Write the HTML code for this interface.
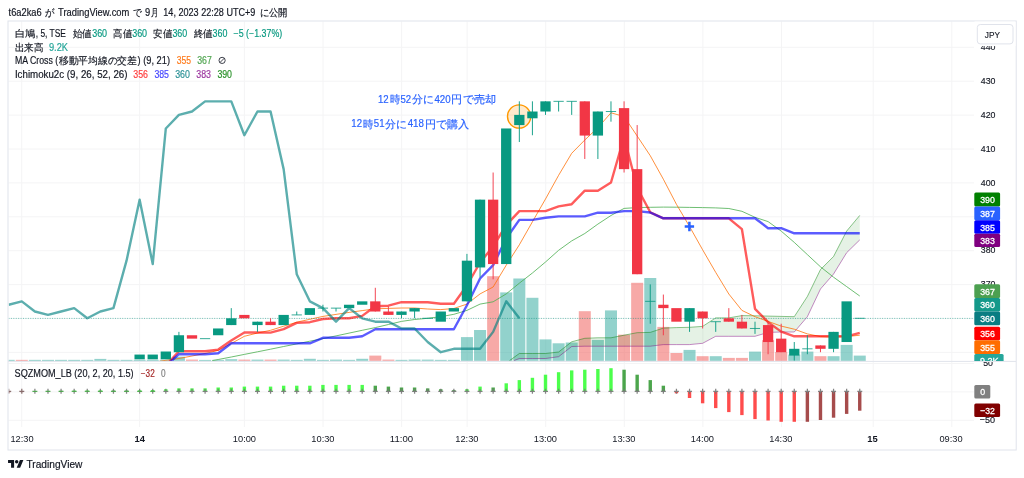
<!DOCTYPE html>
<html lang="ja"><head><meta charset="utf-8"><title>TradingView chart</title>
<style>html,body{margin:0;padding:0;background:#fff;width:1024px;height:478px;overflow:hidden}svg{position:absolute;left:0;top:0;display:block;filter:blur(0.32px)}text{font-family:"Liberation Sans",sans-serif;font-size:9.2px;fill:#131722}.ax{fill:#131722;font-size:9.7px;stroke:#131722;stroke-width:0.15px}.lb{fill:#fff;font-size:9.7px;stroke:#fff;stroke-width:0.3px}.b{font-weight:bold}.g{stroke:#f4f4f5;stroke-width:1;shape-rendering:auto}</style></head><body>
<svg width="1024" height="478" viewBox="0 0 1024 478">
<rect width="1024" height="478" fill="#fff"/>
<g class="g">
<line x1="8.5" y1="47.3" x2="974" y2="47.3"/>
<line x1="8.5" y1="81.2" x2="974" y2="81.2"/>
<line x1="8.5" y1="115.1" x2="974" y2="115.1"/>
<line x1="8.5" y1="149" x2="974" y2="149"/>
<line x1="8.5" y1="182.9" x2="974" y2="182.9"/>
<line x1="8.5" y1="216.8" x2="974" y2="216.8"/>
<line x1="8.5" y1="250.7" x2="974" y2="250.7"/>
<line x1="8.5" y1="284.6" x2="974" y2="284.6"/>
<line x1="8.5" y1="318.5" x2="974" y2="318.5"/>
<line x1="8.5" y1="352.4" x2="974" y2="352.4"/>
<line x1="8.5" y1="363.5" x2="974" y2="363.5"/>
<line x1="8.5" y1="391.9" x2="974" y2="391.9"/>
<line x1="8.5" y1="420.3" x2="974" y2="420.3"/>
<line x1="21.7" y1="21.5" x2="21.7" y2="427"/>
<line x1="139.6" y1="21.5" x2="139.6" y2="427"/>
<line x1="244.4" y1="21.5" x2="244.4" y2="427"/>
<line x1="323" y1="21.5" x2="323" y2="427"/>
<line x1="401.6" y1="21.5" x2="401.6" y2="427"/>
<line x1="467.1" y1="21.5" x2="467.1" y2="427"/>
<line x1="545.7" y1="21.5" x2="545.7" y2="427"/>
<line x1="624.3" y1="21.5" x2="624.3" y2="427"/>
<line x1="702.9" y1="21.5" x2="702.9" y2="427"/>
<line x1="781.5" y1="21.5" x2="781.5" y2="427"/>
<line x1="873.2" y1="21.5" x2="873.2" y2="427"/>
<line x1="951.8" y1="21.5" x2="951.8" y2="427"/>
</g>
<defs><clipPath id="mp"><rect x="8.5" y="21.5" width="965.5" height="339.4"/></clipPath><clipPath id="lp"><rect x="8.5" y="362" width="965.5" height="65"/></clipPath></defs>
<g clip-path="url(#mp)">
<rect x="2.7" y="359.85" width="12" height="1.05" fill="#26a69a" fill-opacity="0.5"/>
<rect x="15.79" y="359.85" width="12" height="1.05" fill="#ef5350" fill-opacity="0.5"/>
<rect x="28.89" y="359.85" width="12" height="1.05" fill="#26a69a" fill-opacity="0.5"/>
<rect x="41.98" y="359.85" width="12" height="1.05" fill="#26a69a" fill-opacity="0.5"/>
<rect x="55.07" y="359.85" width="12" height="1.05" fill="#26a69a" fill-opacity="0.5"/>
<rect x="68.17" y="359.85" width="12" height="1.05" fill="#26a69a" fill-opacity="0.5"/>
<rect x="81.26" y="359.85" width="12" height="1.05" fill="#26a69a" fill-opacity="0.5"/>
<rect x="94.35" y="358.9" width="12" height="2" fill="#26a69a" fill-opacity="0.5"/>
<rect x="107.44" y="359.85" width="12" height="1.05" fill="#26a69a" fill-opacity="0.5"/>
<rect x="120.54" y="359.85" width="12" height="1.05" fill="#26a69a" fill-opacity="0.5"/>
<rect x="133.63" y="359.85" width="12" height="1.05" fill="#26a69a" fill-opacity="0.5"/>
<rect x="146.72" y="359.85" width="12" height="1.05" fill="#26a69a" fill-opacity="0.5"/>
<rect x="159.82" y="359.85" width="12" height="1.05" fill="#26a69a" fill-opacity="0.5"/>
<rect x="172.91" y="356.7" width="12" height="4.2" fill="#26a69a" fill-opacity="0.5"/>
<rect x="186" y="359.6" width="12" height="1.3" fill="#ef5350" fill-opacity="0.5"/>
<rect x="199.09" y="359.9" width="12" height="1" fill="#26a69a" fill-opacity="0.5"/>
<rect x="212.19" y="359.85" width="12" height="1.05" fill="#26a69a" fill-opacity="0.5"/>
<rect x="225.28" y="359.2" width="12" height="1.7" fill="#26a69a" fill-opacity="0.5"/>
<rect x="238.37" y="359.6" width="12" height="1.3" fill="#ef5350" fill-opacity="0.5"/>
<rect x="251.47" y="359.6" width="12" height="1.3" fill="#26a69a" fill-opacity="0.5"/>
<rect x="264.56" y="359.6" width="12" height="1.3" fill="#ef5350" fill-opacity="0.5"/>
<rect x="277.65" y="359.6" width="12" height="1.3" fill="#26a69a" fill-opacity="0.5"/>
<rect x="290.75" y="359.85" width="12" height="1.05" fill="#26a69a" fill-opacity="0.5"/>
<rect x="303.84" y="358.8" width="12" height="2.1" fill="#26a69a" fill-opacity="0.5"/>
<rect x="316.93" y="359.85" width="12" height="1.05" fill="#26a69a" fill-opacity="0.5"/>
<rect x="330.02" y="359.6" width="12" height="1.3" fill="#26a69a" fill-opacity="0.5"/>
<rect x="343.12" y="359.85" width="12" height="1.05" fill="#26a69a" fill-opacity="0.5"/>
<rect x="356.21" y="358.8" width="12" height="2.1" fill="#26a69a" fill-opacity="0.5"/>
<rect x="369.3" y="355.6" width="12" height="5.3" fill="#ef5350" fill-opacity="0.5"/>
<rect x="382.4" y="359.6" width="12" height="1.3" fill="#ef5350" fill-opacity="0.5"/>
<rect x="395.49" y="359.85" width="12" height="1.05" fill="#26a69a" fill-opacity="0.5"/>
<rect x="408.58" y="359.6" width="12" height="1.3" fill="#26a69a" fill-opacity="0.5"/>
<rect x="421.68" y="359.6" width="12" height="1.3" fill="#26a69a" fill-opacity="0.5"/>
<rect x="434.77" y="359.85" width="12" height="1.05" fill="#26a69a" fill-opacity="0.5"/>
<rect x="447.86" y="359.85" width="12" height="1.05" fill="#26a69a" fill-opacity="0.5"/>
<rect x="460.95" y="337.1" width="12" height="23.8" fill="#26a69a" fill-opacity="0.5"/>
<rect x="474.05" y="330" width="12" height="30.9" fill="#26a69a" fill-opacity="0.5"/>
<rect x="487.14" y="276.2" width="12" height="84.7" fill="#ef5350" fill-opacity="0.5"/>
<rect x="500.23" y="292.4" width="12" height="68.5" fill="#26a69a" fill-opacity="0.5"/>
<rect x="513.33" y="278.5" width="12" height="82.4" fill="#26a69a" fill-opacity="0.5"/>
<rect x="526.42" y="297.8" width="12" height="63.1" fill="#26a69a" fill-opacity="0.5"/>
<rect x="539.51" y="339.4" width="12" height="21.5" fill="#26a69a" fill-opacity="0.5"/>
<rect x="552.61" y="343.3" width="12" height="17.6" fill="#26a69a" fill-opacity="0.5"/>
<rect x="565.7" y="342.5" width="12" height="18.4" fill="#26a69a" fill-opacity="0.5"/>
<rect x="578.79" y="311.2" width="12" height="49.7" fill="#ef5350" fill-opacity="0.5"/>
<rect x="591.88" y="339.9" width="12" height="21" fill="#26a69a" fill-opacity="0.5"/>
<rect x="604.98" y="310.4" width="12" height="50.5" fill="#26a69a" fill-opacity="0.5"/>
<rect x="618.07" y="334.7" width="12" height="26.2" fill="#ef5350" fill-opacity="0.5"/>
<rect x="631.16" y="282.8" width="12" height="78.1" fill="#ef5350" fill-opacity="0.5"/>
<rect x="644.26" y="278" width="12" height="82.9" fill="#26a69a" fill-opacity="0.5"/>
<rect x="657.35" y="326.9" width="12" height="34" fill="#ef5350" fill-opacity="0.5"/>
<rect x="670.44" y="353" width="12" height="7.9" fill="#ef5350" fill-opacity="0.5"/>
<rect x="683.54" y="349.9" width="12" height="11" fill="#26a69a" fill-opacity="0.5"/>
<rect x="696.63" y="356.2" width="12" height="4.7" fill="#ef5350" fill-opacity="0.5"/>
<rect x="709.72" y="356.2" width="12" height="4.7" fill="#26a69a" fill-opacity="0.5"/>
<rect x="722.82" y="357.9" width="12" height="3" fill="#ef5350" fill-opacity="0.5"/>
<rect x="735.91" y="357.9" width="12" height="3" fill="#ef5350" fill-opacity="0.5"/>
<rect x="749" y="351.6" width="12" height="9.3" fill="#26a69a" fill-opacity="0.5"/>
<rect x="762.09" y="340.2" width="12" height="20.7" fill="#ef5350" fill-opacity="0.5"/>
<rect x="775.19" y="352" width="12" height="8.9" fill="#ef5350" fill-opacity="0.5"/>
<rect x="788.28" y="354.6" width="12" height="6.3" fill="#26a69a" fill-opacity="0.5"/>
<rect x="801.37" y="351.6" width="12" height="9.3" fill="#26a69a" fill-opacity="0.5"/>
<rect x="814.47" y="356.2" width="12" height="4.7" fill="#ef5350" fill-opacity="0.5"/>
<rect x="827.56" y="356.2" width="12" height="4.7" fill="#26a69a" fill-opacity="0.5"/>
<rect x="840.65" y="344.9" width="12" height="16" fill="#26a69a" fill-opacity="0.5"/>
<rect x="853.75" y="355.6" width="12" height="5.3" fill="#26a69a" fill-opacity="0.5"/>
<polygon points="509.51,360.6 519.33,353.5 532.42,353.5 545.51,353.5 558.61,352 571.7,341.8 584.79,338.3 597.88,337.8 610.98,337.8 624.07,335.2 637.16,332.7 650.26,332.4 663.35,328.1 676.44,327.6 689.54,327.3 702.63,326.4 715.72,317.9 728.82,317.9 741.91,315.6 755,315.8 768.09,316.1 781.19,316.4 794.28,316.7 807.37,296.5 820.47,269.6 833.56,256.5 846.65,231.1 859.75,215.4 859.75,239.9 846.65,252.7 833.56,274 820.47,289 807.37,316.7 794.28,332 781.19,332 768.09,332.4 755,336.3 741.91,336.3 728.82,336.3 715.72,336.3 702.63,343.3 689.54,344.6 676.44,344.6 663.35,344.6 650.26,346.2 637.16,346.2 624.07,346.2 610.98,346.2 597.88,346.2 584.79,346.2 571.7,346.5 558.61,356.7 545.51,358.5 532.42,358.5 519.33,358.5 514.09,360.6" fill="#008000" fill-opacity="0.1"/>
<polyline points="509.51,360.6 519.33,353.5 532.42,353.5 545.51,353.5 558.61,352 571.7,341.8 584.79,338.3 597.88,337.8 610.98,337.8 624.07,335.2 637.16,332.7 650.26,332.4 663.35,328.1 676.44,327.6 689.54,327.3 702.63,326.4 715.72,317.9 728.82,317.9 741.91,315.6 755,315.8 768.09,316.1 781.19,316.4 794.28,316.7 807.37,296.5 820.47,269.6 833.56,256.5 846.65,231.1 859.75,215.4" fill="none" stroke="#008000" stroke-opacity="0.45" stroke-width="1"/>
<polyline points="514.09,360.6 519.33,358.5 532.42,358.5 545.51,358.5 558.61,356.7 571.7,346.5 584.79,346.2 597.88,346.2 610.98,346.2 624.07,346.2 637.16,346.2 650.26,346.2 663.35,344.6 676.44,344.6 689.54,344.6 702.63,343.3 715.72,336.3 728.82,336.3 741.91,336.3 755,336.3 768.09,332.4 781.19,332 794.28,332 807.37,316.7 820.47,289 833.56,274 846.65,252.7 859.75,239.9" fill="none" stroke="#800080" stroke-opacity="0.45" stroke-width="1"/>
<polyline points="212.3,360.6 218.19,359.5 231.28,357 244.37,354.4 257.47,351.8 270.56,349.2 283.65,346.5 296.75,343.9 309.84,341.2 322.93,338.6 336.02,335.9 349.12,333.1 362.21,330.3 375.3,327.6 388.4,324.5 401.49,321.4 414.58,319.5 427.68,318.3 440.77,316.7 453.86,314.3 466.95,310.4 480.05,304.1 493.14,301.8 506.23,293.9 519.33,283.2 532.42,273 545.51,262 558.61,250.3 571.7,240.9 584.79,233.5 597.88,224.1 610.98,215.5 624.07,208.4 637.16,207.6 650.26,207.3 663.35,207.1 676.44,207.2 689.54,207.4 702.63,207.6 715.72,207.9 728.82,208.5 741.91,211.3 755,217.3 768.09,221.6 781.19,231.1 794.28,242.4 807.37,254.6 820.47,266.8 833.56,277.2 846.65,286.6 859.75,296" fill="none" stroke="#4caf50" stroke-opacity="0.9" stroke-width="0.9" stroke-linejoin="round"/>
<polyline points="152.72,362.5 165.82,360.3 178.91,358.5 192,356 205.09,353.5 218.19,350.4 231.28,343.5 244.37,336.3 257.47,333 270.56,330.3 283.65,326.2 296.75,322.2 309.84,319.3 322.93,316.4 336.02,314.4 349.12,312.4 362.21,310.6 375.3,308.8 388.4,308.4 401.49,308 414.58,308 427.68,309 440.77,309.6 453.86,308.5 466.95,304.1 480.05,293.9 493.14,287 506.23,265.2 519.33,244.8 532.42,221.8 545.51,199 558.61,175.3 571.7,153.3 584.79,140 597.88,127.7 610.98,112.8 624.07,116.5 637.16,136 650.26,155.7 663.35,179.2 676.44,204.3 689.54,226.5 702.63,249.8 715.72,272.4 728.82,294 741.91,310.4 755,316.7 768.09,321.4 781.19,326.1 794.28,329.2 807.37,333.9 820.47,336.6 833.56,337.1 846.65,336.6 859.75,335.2" fill="none" stroke="#ff6d00" stroke-opacity="0.85" stroke-width="0.9" stroke-linejoin="round"/>
<line x1="8.5" y1="318.4" x2="974" y2="318.4" stroke="#089981" stroke-width="0.8" stroke-dasharray="1 1.42" stroke-opacity="0.7"/>
<polyline points="165.82,365.6 178.91,351.2 192,351.2 205.09,351.2 218.19,349.6 231.28,340.5 244.37,332.4 257.47,332.5 270.56,332.6 283.65,329.2 296.75,322.9 309.84,322.2 322.93,319 336.02,318.2 349.12,318.2 362.21,315.9 375.3,306.3 388.4,305.7 401.49,302.2 414.58,302.2 427.68,302.2 440.77,303.8 453.86,303.8 466.95,285.5 480.05,262.5 493.14,246.5 506.23,225.1 519.33,211.1 532.42,211.1 545.51,211.1 558.61,206.4 571.7,204.2 584.79,190.7 597.88,190.7 610.98,182.5 624.07,137 637.16,187.8 650.26,212.3 663.35,218.3 676.44,218.3 689.54,218.3 702.63,218.3 715.72,218.3 728.82,218.3 741.91,229.2 755,308.8 768.09,322.2 781.19,331.6 794.28,336.3 807.37,336.3 820.47,336.3 833.56,336.3 846.65,336.3 859.75,332.8" fill="none" stroke="#ff0000" stroke-opacity="0.64" stroke-width="2.4" stroke-linejoin="round"/>
<polyline points="165.82,366 178.91,354.2 192,354.3 205.09,354.3 218.19,353.2 231.28,343.3 244.37,343.3 257.47,343.3 270.56,343.3 283.65,343.3 296.75,343.3 309.84,343.3 322.93,337.8 336.02,337.8 349.12,337.8 362.21,336.3 375.3,329.2 388.4,329.2 401.49,329.2 414.58,329.2 427.68,329.2 440.77,329.2 453.86,329.2 466.95,305.2 480.05,278.5 493.14,265.2 506.23,238.5 519.33,219.9 532.42,219.9 545.51,217.8 558.61,216.4 571.7,216.4 584.79,216.4 597.88,212.7 610.98,212.7 624.07,211.1 637.16,211.1 650.26,212.5 663.35,218.3 676.44,218.3 689.54,218.3 702.63,218.3 715.72,218.3 728.82,218.3 741.91,218.3 755,218.3 768.09,228.2 781.19,228.2 794.28,233.3 807.37,233.3 820.47,233.3 833.56,233.3 846.65,233.3 859.75,233.3" fill="none" stroke="#0000ff" stroke-opacity="0.64" stroke-width="2.4" stroke-linejoin="round"/>
<polyline points="8.7,304.74 21.79,301.35 34.89,311.52 47.98,314.91 61.07,311.52 74.17,308.13 87.26,318.3 100.35,311.52 113.44,308.13 126.54,260.67 139.63,199.65 152.72,264.06 165.82,128.46 178.91,114.9 192,111.51 205.09,101.34 218.19,101.34 231.28,101.34 244.37,135.24 257.47,111.51 270.56,111.51 283.65,169.14 296.75,274.23 309.84,301.35 322.93,308.13 336.02,321.69 349.12,308.13 362.21,318.3 375.3,321.69 388.4,321.69 401.49,328.47 414.58,328.47 427.68,342.03 440.77,352.2 453.86,348.81 466.95,348.81 480.05,348.81 493.14,331.86 506.23,301.35 519.33,318.3" fill="none" stroke="#008080" stroke-opacity="0.64" stroke-width="2.4" stroke-linejoin="round"/>
<circle cx="519.1" cy="116.5" r="11.6" fill="#ff9800" fill-opacity="0.2" stroke="#ff9800" stroke-width="1.4"/>
<rect x="134.48" y="354.57" width="10.3" height="4.75" fill="#089981"/>
<rect x="147.57" y="354.57" width="10.3" height="4.75" fill="#089981"/>
<rect x="160.67" y="351.52" width="10.3" height="7.8" fill="#089981"/>
<line x1="178.91" y1="331.86" x2="178.91" y2="352.2" stroke="#089981" stroke-width="1" stroke-opacity="0.92"/>
<rect x="173.76" y="335.25" width="10.3" height="16.95" fill="#089981"/>
<rect x="186.85" y="335.25" width="10.3" height="3.39" fill="#f23645"/>
<rect x="199.94" y="338.14" width="10.3" height="1" fill="#089981" fill-opacity="0.8"/>
<rect x="213.04" y="328.47" width="10.3" height="6.78" fill="#089981"/>
<line x1="231.28" y1="308.13" x2="231.28" y2="325.08" stroke="#089981" stroke-width="1" stroke-opacity="0.92"/>
<rect x="226.13" y="318.3" width="10.3" height="6.78" fill="#089981"/>
<rect x="239.22" y="314.91" width="10.3" height="3.39" fill="#f23645"/>
<line x1="257.47" y1="321.69" x2="257.47" y2="331.86" stroke="#089981" stroke-width="1" stroke-opacity="0.92"/>
<rect x="252.32" y="321.69" width="10.3" height="3.39" fill="#089981"/>
<line x1="270.56" y1="318.3" x2="270.56" y2="325.08" stroke="#f23645" stroke-width="1" stroke-opacity="0.92"/>
<rect x="265.41" y="321.69" width="10.3" height="3.39" fill="#f23645"/>
<rect x="278.5" y="314.91" width="10.3" height="10.17" fill="#089981"/>
<line x1="296.75" y1="311.52" x2="296.75" y2="314.91" stroke="#089981" stroke-width="1" stroke-opacity="0.92"/>
<rect x="291.6" y="314.41" width="10.3" height="1" fill="#089981" fill-opacity="0.8"/>
<rect x="304.69" y="308.13" width="10.3" height="6.78" fill="#089981"/>
<line x1="322.93" y1="304.74" x2="322.93" y2="311.52" stroke="#089981" stroke-width="1" stroke-opacity="0.92"/>
<rect x="317.78" y="307.63" width="10.3" height="1" fill="#089981" fill-opacity="0.8"/>
<line x1="336.02" y1="308.13" x2="336.02" y2="311.52" stroke="#089981" stroke-width="1" stroke-opacity="0.92"/>
<rect x="330.88" y="307.63" width="10.3" height="1" fill="#089981" fill-opacity="0.8"/>
<rect x="343.97" y="304.74" width="10.3" height="3.39" fill="#089981"/>
<rect x="357.06" y="301.35" width="10.3" height="3.39" fill="#089981"/>
<line x1="375.3" y1="287.79" x2="375.3" y2="311.52" stroke="#f23645" stroke-width="1" stroke-opacity="0.92"/>
<rect x="370.15" y="301.35" width="10.3" height="10.17" fill="#f23645"/>
<line x1="388.4" y1="306.44" x2="388.4" y2="314.91" stroke="#f23645" stroke-width="1" stroke-opacity="0.92"/>
<rect x="383.25" y="311.52" width="10.3" height="3.39" fill="#f23645"/>
<line x1="401.49" y1="311.52" x2="401.49" y2="318.3" stroke="#089981" stroke-width="1" stroke-opacity="0.92"/>
<rect x="396.34" y="311.52" width="10.3" height="3.39" fill="#089981"/>
<line x1="414.58" y1="308.13" x2="414.58" y2="318.3" stroke="#089981" stroke-width="1" stroke-opacity="0.92"/>
<rect x="409.43" y="308.13" width="10.3" height="3.39" fill="#089981"/>
<rect x="422.53" y="317.8" width="10.3" height="1" fill="#089981" fill-opacity="0.8"/>
<rect x="435.62" y="311.52" width="10.3" height="10.17" fill="#089981"/>
<rect x="448.71" y="308.13" width="10.3" height="3.39" fill="#089981"/>
<line x1="466.95" y1="253.89" x2="466.95" y2="301.35" stroke="#089981" stroke-width="1" stroke-opacity="0.92"/>
<rect x="461.81" y="260.67" width="10.3" height="40.68" fill="#089981"/>
<line x1="480.05" y1="199.65" x2="480.05" y2="277.62" stroke="#089981" stroke-width="1" stroke-opacity="0.92"/>
<rect x="474.9" y="199.65" width="10.3" height="67.8" fill="#089981"/>
<line x1="493.14" y1="172.53" x2="493.14" y2="279.31" stroke="#f23645" stroke-width="1" stroke-opacity="0.92"/>
<rect x="487.99" y="199.65" width="10.3" height="64.41" fill="#f23645"/>
<rect x="501.08" y="128.46" width="10.3" height="135.6" fill="#089981"/>
<line x1="519.33" y1="101.34" x2="519.33" y2="142.02" stroke="#089981" stroke-width="1" stroke-opacity="0.92"/>
<rect x="514.18" y="114.9" width="10.3" height="10.17" fill="#089981"/>
<line x1="532.42" y1="101.34" x2="532.42" y2="135.24" stroke="#089981" stroke-width="1" stroke-opacity="0.92"/>
<rect x="527.27" y="111.51" width="10.3" height="6.78" fill="#089981"/>
<line x1="545.51" y1="101.34" x2="545.51" y2="114.9" stroke="#089981" stroke-width="1" stroke-opacity="0.92"/>
<rect x="540.36" y="101.34" width="10.3" height="10.17" fill="#089981"/>
<line x1="558.61" y1="101.34" x2="558.61" y2="111.51" stroke="#089981" stroke-width="1" stroke-opacity="0.92"/>
<rect x="553.46" y="100.84" width="10.3" height="1" fill="#089981" fill-opacity="0.8"/>
<line x1="571.7" y1="101.34" x2="571.7" y2="114.9" stroke="#089981" stroke-width="1" stroke-opacity="0.92"/>
<rect x="566.55" y="100.84" width="10.3" height="1" fill="#089981" fill-opacity="0.8"/>
<line x1="584.79" y1="101.34" x2="584.79" y2="158.97" stroke="#f23645" stroke-width="1" stroke-opacity="0.92"/>
<rect x="579.64" y="101.34" width="10.3" height="34.24" fill="#f23645"/>
<line x1="597.88" y1="111.51" x2="597.88" y2="158.97" stroke="#089981" stroke-width="1" stroke-opacity="0.92"/>
<rect x="592.74" y="111.51" width="10.3" height="24.07" fill="#089981"/>
<line x1="610.98" y1="101.34" x2="610.98" y2="121.68" stroke="#089981" stroke-width="1" stroke-opacity="0.92"/>
<rect x="605.83" y="111.01" width="10.3" height="1" fill="#089981" fill-opacity="0.8"/>
<line x1="624.07" y1="101.34" x2="624.07" y2="172.53" stroke="#f23645" stroke-width="1" stroke-opacity="0.92"/>
<rect x="618.92" y="108.12" width="10.3" height="61.02" fill="#f23645"/>
<line x1="637.16" y1="125.07" x2="637.16" y2="274.23" stroke="#f23645" stroke-width="1" stroke-opacity="0.92"/>
<rect x="632.01" y="169.14" width="10.3" height="105.09" fill="#f23645"/>
<line x1="650.26" y1="284.4" x2="650.26" y2="323.72" stroke="#089981" stroke-width="1" stroke-opacity="0.92"/>
<rect x="645.11" y="300.85" width="10.3" height="1" fill="#089981" fill-opacity="0.8"/>
<line x1="663.35" y1="294.57" x2="663.35" y2="335.25" stroke="#f23645" stroke-width="1" stroke-opacity="0.92"/>
<rect x="658.2" y="304.74" width="10.3" height="3.39" fill="#f23645"/>
<rect x="671.29" y="308.13" width="10.3" height="13.56" fill="#f23645"/>
<line x1="689.54" y1="308.13" x2="689.54" y2="331.86" stroke="#089981" stroke-width="1" stroke-opacity="0.92"/>
<rect x="684.39" y="308.13" width="10.3" height="13.56" fill="#089981"/>
<line x1="702.63" y1="311.52" x2="702.63" y2="328.47" stroke="#f23645" stroke-width="1" stroke-opacity="0.92"/>
<rect x="697.48" y="311.52" width="10.3" height="6.78" fill="#f23645"/>
<line x1="715.72" y1="321.69" x2="715.72" y2="331.86" stroke="#089981" stroke-width="1" stroke-opacity="0.92"/>
<rect x="710.57" y="321.19" width="10.3" height="1" fill="#089981" fill-opacity="0.8"/>
<line x1="728.82" y1="308.13" x2="728.82" y2="321.69" stroke="#f23645" stroke-width="1" stroke-opacity="0.92"/>
<rect x="723.67" y="318.3" width="10.3" height="3.39" fill="#f23645"/>
<line x1="741.91" y1="314.91" x2="741.91" y2="328.47" stroke="#f23645" stroke-width="1" stroke-opacity="0.92"/>
<rect x="736.76" y="321.69" width="10.3" height="6.78" fill="#f23645"/>
<line x1="755" y1="321.69" x2="755" y2="333.89" stroke="#089981" stroke-width="1" stroke-opacity="0.92"/>
<rect x="749.85" y="327.97" width="10.3" height="1" fill="#089981" fill-opacity="0.8"/>
<line x1="768.09" y1="321.69" x2="768.09" y2="354.23" stroke="#f23645" stroke-width="1" stroke-opacity="0.92"/>
<rect x="762.94" y="325.08" width="10.3" height="16.95" fill="#f23645"/>
<line x1="781.19" y1="323.72" x2="781.19" y2="352.2" stroke="#f23645" stroke-width="1" stroke-opacity="0.92"/>
<rect x="776.04" y="338.64" width="10.3" height="13.56" fill="#f23645"/>
<line x1="794.28" y1="342.03" x2="794.28" y2="360.68" stroke="#089981" stroke-width="1" stroke-opacity="0.92"/>
<rect x="789.13" y="348.81" width="10.3" height="6.78" fill="#089981"/>
<line x1="807.37" y1="335.25" x2="807.37" y2="354.23" stroke="#089981" stroke-width="1" stroke-opacity="0.92"/>
<rect x="802.22" y="348.31" width="10.3" height="1" fill="#089981" fill-opacity="0.8"/>
<line x1="820.47" y1="345.42" x2="820.47" y2="352.2" stroke="#f23645" stroke-width="1" stroke-opacity="0.92"/>
<rect x="815.32" y="345.42" width="10.3" height="3.39" fill="#f23645"/>
<line x1="833.56" y1="331.86" x2="833.56" y2="352.2" stroke="#089981" stroke-width="1" stroke-opacity="0.92"/>
<rect x="828.41" y="331.86" width="10.3" height="16.95" fill="#089981"/>
<rect x="841.5" y="301.35" width="10.3" height="40.68" fill="#089981"/>
<rect x="854.6" y="317.8" width="10.3" height="1" fill="#089981" fill-opacity="0.8"/>
<path d="M684.6999999999999,226.5H694.1M689.4,221.8V231.2" stroke="#2962ff" stroke-width="2.5" fill="none"/>
</g>
<g clip-path="url(#lp)">
<rect x="7" y="391.6" width="3.4" height="0.7" fill="#800000" fill-opacity="0.7"/>
<rect x="20.09" y="391.6" width="3.4" height="0.5" fill="#800000" fill-opacity="0.7"/>
<rect x="33.19" y="391" width="3.4" height="0.6" fill="#008000" fill-opacity="0.7"/>
<rect x="46.28" y="390.9" width="3.4" height="0.7" fill="#008000" fill-opacity="0.7"/>
<rect x="59.37" y="390.8" width="3.4" height="0.8" fill="#008000" fill-opacity="0.7"/>
<rect x="72.47" y="390.6" width="3.4" height="1" fill="#00ff00" fill-opacity="0.7"/>
<rect x="85.56" y="390.5" width="3.4" height="1.1" fill="#00ff00" fill-opacity="0.7"/>
<rect x="98.65" y="390.4" width="3.4" height="1.2" fill="#00ff00" fill-opacity="0.7"/>
<rect x="111.74" y="390.5" width="3.4" height="1.1" fill="#008000" fill-opacity="0.7"/>
<rect x="124.84" y="390.5" width="3.4" height="1.1" fill="#008000" fill-opacity="0.7"/>
<rect x="137.93" y="390.3" width="3.4" height="1.3" fill="#00ff00" fill-opacity="0.7"/>
<rect x="151.02" y="390" width="3.4" height="1.6" fill="#00ff00" fill-opacity="0.7"/>
<rect x="164.12" y="389.2" width="3.4" height="2.4" fill="#00ff00" fill-opacity="0.7"/>
<rect x="177.21" y="388.4" width="3.4" height="3.2" fill="#00ff00" fill-opacity="0.7"/>
<rect x="190.3" y="388.4" width="3.4" height="3.2" fill="#00ff00" fill-opacity="0.7"/>
<rect x="203.4" y="388.4" width="3.4" height="3.2" fill="#00ff00" fill-opacity="0.7"/>
<rect x="216.49" y="387.5" width="3.4" height="4.1" fill="#00ff00" fill-opacity="0.7"/>
<rect x="229.58" y="387.5" width="3.4" height="4.1" fill="#00ff00" fill-opacity="0.7"/>
<rect x="242.67" y="386.6" width="3.4" height="5" fill="#00ff00" fill-opacity="0.7"/>
<rect x="255.77" y="386.6" width="3.4" height="5" fill="#00ff00" fill-opacity="0.7"/>
<rect x="268.86" y="386.6" width="3.4" height="5" fill="#00ff00" fill-opacity="0.7"/>
<rect x="281.95" y="385.7" width="3.4" height="5.9" fill="#00ff00" fill-opacity="0.7"/>
<rect x="295.05" y="385.7" width="3.4" height="5.9" fill="#00ff00" fill-opacity="0.7"/>
<rect x="308.14" y="385.7" width="3.4" height="5.9" fill="#00ff00" fill-opacity="0.7"/>
<rect x="321.23" y="384.9" width="3.4" height="6.7" fill="#00ff00" fill-opacity="0.7"/>
<rect x="334.32" y="384.9" width="3.4" height="6.7" fill="#00ff00" fill-opacity="0.7"/>
<rect x="347.42" y="384.9" width="3.4" height="6.7" fill="#00ff00" fill-opacity="0.7"/>
<rect x="360.51" y="384.9" width="3.4" height="6.7" fill="#00ff00" fill-opacity="0.7"/>
<rect x="373.6" y="385.7" width="3.4" height="5.9" fill="#008000" fill-opacity="0.7"/>
<rect x="386.7" y="386.6" width="3.4" height="5" fill="#008000" fill-opacity="0.7"/>
<rect x="399.79" y="387.5" width="3.4" height="4.1" fill="#008000" fill-opacity="0.7"/>
<rect x="412.88" y="387.5" width="3.4" height="4.1" fill="#008000" fill-opacity="0.7"/>
<rect x="425.98" y="388.4" width="3.4" height="3.2" fill="#008000" fill-opacity="0.7"/>
<rect x="439.07" y="389.2" width="3.4" height="2.4" fill="#008000" fill-opacity="0.7"/>
<rect x="452.16" y="390.1" width="3.4" height="1.5" fill="#008000" fill-opacity="0.7"/>
<rect x="465.25" y="389.2" width="3.4" height="2.4" fill="#00ff00" fill-opacity="0.7"/>
<rect x="478.35" y="386.6" width="3.4" height="5" fill="#00ff00" fill-opacity="0.7"/>
<rect x="491.44" y="387.5" width="3.4" height="4.1" fill="#008000" fill-opacity="0.7"/>
<rect x="504.53" y="383.3" width="3.4" height="8.3" fill="#00ff00" fill-opacity="0.7"/>
<rect x="517.63" y="380.1" width="3.4" height="11.5" fill="#00ff00" fill-opacity="0.7"/>
<rect x="530.72" y="377.8" width="3.4" height="13.8" fill="#00ff00" fill-opacity="0.7"/>
<rect x="543.81" y="374.7" width="3.4" height="16.9" fill="#00ff00" fill-opacity="0.7"/>
<rect x="556.91" y="372.2" width="3.4" height="19.4" fill="#00ff00" fill-opacity="0.7"/>
<rect x="570" y="370.4" width="3.4" height="21.2" fill="#00ff00" fill-opacity="0.7"/>
<rect x="583.09" y="369.7" width="3.4" height="21.9" fill="#00ff00" fill-opacity="0.7"/>
<rect x="596.18" y="369" width="3.4" height="22.6" fill="#00ff00" fill-opacity="0.7"/>
<rect x="609.28" y="368.2" width="3.4" height="23.4" fill="#00ff00" fill-opacity="0.7"/>
<rect x="622.37" y="369.7" width="3.4" height="21.9" fill="#008000" fill-opacity="0.7"/>
<rect x="635.46" y="374.7" width="3.4" height="16.9" fill="#008000" fill-opacity="0.7"/>
<rect x="648.56" y="380.1" width="3.4" height="11.5" fill="#008000" fill-opacity="0.7"/>
<rect x="661.65" y="385.7" width="3.4" height="5.9" fill="#008000" fill-opacity="0.7"/>
<rect x="674.74" y="391.6" width="3.4" height="1.7" fill="#ff0000" fill-opacity="0.7"/>
<rect x="687.84" y="391.6" width="3.4" height="6.4" fill="#ff0000" fill-opacity="0.7"/>
<rect x="700.93" y="391.6" width="3.4" height="11.7" fill="#ff0000" fill-opacity="0.7"/>
<rect x="714.02" y="391.6" width="3.4" height="16.5" fill="#ff0000" fill-opacity="0.7"/>
<rect x="727.12" y="391.6" width="3.4" height="20.5" fill="#ff0000" fill-opacity="0.7"/>
<rect x="740.21" y="391.6" width="3.4" height="23.5" fill="#ff0000" fill-opacity="0.7"/>
<rect x="753.3" y="391.6" width="3.4" height="27.5" fill="#ff0000" fill-opacity="0.7"/>
<rect x="766.39" y="391.6" width="3.4" height="28.9" fill="#ff0000" fill-opacity="0.7"/>
<rect x="779.49" y="391.6" width="3.4" height="30.2" fill="#ff0000" fill-opacity="0.7"/>
<rect x="792.58" y="391.6" width="3.4" height="30.2" fill="#ff0000" fill-opacity="0.7"/>
<rect x="805.67" y="391.6" width="3.4" height="30.2" fill="#800000" fill-opacity="0.7"/>
<rect x="818.77" y="391.6" width="3.4" height="28.4" fill="#800000" fill-opacity="0.7"/>
<rect x="831.86" y="391.6" width="3.4" height="26.1" fill="#800000" fill-opacity="0.7"/>
<rect x="844.95" y="391.6" width="3.4" height="22.3" fill="#800000" fill-opacity="0.7"/>
<rect x="858.04" y="391.6" width="3.4" height="19.1" fill="#800000" fill-opacity="0.7"/>
<path d="M34.89,388.8V393.8M47.98,388.8V393.8M61.07,388.8V393.8M74.17,388.8V393.8M87.26,388.8V393.8M100.35,388.8V393.8M113.44,388.8V393.8M126.54,388.8V393.8M139.63,388.8V393.8M152.72,388.8V393.8M163.32,391.3H168.32M165.82,388.8V393.8M176.41,391.3H181.41M178.91,388.8V393.8M189.5,391.3H194.5M192,388.8V393.8M202.59,391.3H207.59M205.09,388.8V393.8M215.69,391.3H220.69M218.19,388.8V393.8M228.78,391.3H233.78M231.28,388.8V393.8M241.87,391.3H246.87M244.37,388.8V393.8M254.97,391.3H259.97M257.47,388.8V393.8M268.06,391.3H273.06M270.56,388.8V393.8M281.15,391.3H286.15M283.65,388.8V393.8M294.25,391.3H299.25M296.75,388.8V393.8M307.34,391.3H312.34M309.84,388.8V393.8M320.43,391.3H325.43M322.93,388.8V393.8M333.52,391.3H338.52M336.02,388.8V393.8M346.62,391.3H351.62M349.12,388.8V393.8M359.71,391.3H364.71M362.21,388.8V393.8M372.8,391.3H377.8M375.3,388.8V393.8M385.9,391.3H390.9M388.4,388.8V393.8M398.99,391.3H403.99M401.49,388.8V393.8M412.08,391.3H417.08M414.58,388.8V393.8M425.18,391.3H430.18M427.68,388.8V393.8M438.27,391.3H443.27M440.77,388.8V393.8M451.36,391.3H456.36M453.86,388.8V393.8M464.45,391.3H469.45M466.95,388.8V393.8M477.55,391.3H482.55M480.05,388.8V393.8M490.64,391.3H495.64M493.14,388.8V393.8M503.73,391.3H508.73M506.23,388.8V393.8M516.83,391.3H521.83M519.33,388.8V393.8M529.92,391.3H534.92M532.42,388.8V393.8M543.01,391.3H548.01M545.51,388.8V393.8M556.11,391.3H561.11M558.61,388.8V393.8M569.2,391.3H574.2M571.7,388.8V393.8M582.29,391.3H587.29M584.79,388.8V393.8M595.38,391.3H600.38M597.88,388.8V393.8M608.48,391.3H613.48M610.98,388.8V393.8M621.57,391.3H626.57M624.07,388.8V393.8M634.66,391.3H639.66M637.16,388.8V393.8M647.76,391.3H652.76M650.26,388.8V393.8M660.85,391.3H665.85M663.35,388.8V393.8M673.94,391.3H678.94M676.44,388.8V393.8M687.04,391.3H692.04M689.54,388.8V393.8M700.13,391.3H705.13M702.63,388.8V393.8M713.22,391.3H718.22M715.72,388.8V393.8M726.32,391.3H731.32M728.82,388.8V393.8M739.41,391.3H744.41M741.91,388.8V393.8M752.5,391.3H757.5M755,388.8V393.8M765.59,391.3H770.59M768.09,388.8V393.8M778.69,391.3H783.69M781.19,388.8V393.8M791.78,391.3H796.78M794.28,388.8V393.8M804.87,391.3H809.87M807.37,388.8V393.8M817.97,391.3H822.97M820.47,388.8V393.8M831.06,391.3H836.06M833.56,388.8V393.8M844.15,391.3H849.15M846.65,388.8V393.8M857.25,391.3H862.25M859.75,388.8V393.8" stroke="#777" stroke-width="1.25" fill="none" stroke-opacity="0.9"/>
<path d="M32.39,391.3H37.39M45.48,391.3H50.48M58.57,391.3H63.57M71.67,391.3H76.67M84.76,391.3H89.76M97.85,391.3H102.85M110.94,391.3H115.94M124.04,391.3H129.04M137.13,391.3H142.13M150.22,391.3H155.22" stroke="#4ca64c" stroke-width="1.3" fill="none" stroke-opacity="0.9"/>
<path d="M6.2,391.3H11.2M8.7,388.8V393.8M19.29,391.3H24.29M21.79,388.8V393.8" stroke="#806464" stroke-width="1.25" fill="none" stroke-opacity="0.9"/>
</g>
<line x1="8" y1="361.4" x2="1016" y2="361.4" stroke="#e0e3eb" stroke-width="1"/>
<rect x="8" y="21" width="1008.2" height="429" fill="none" stroke="#e0e3eb" stroke-width="1"/>
<text class="ax" x="988.1" y="50.05" text-anchor="middle" textLength="14.7" lengthAdjust="spacingAndGlyphs">440</text>
<text class="ax" x="988.1" y="83.95" text-anchor="middle" textLength="14.7" lengthAdjust="spacingAndGlyphs">430</text>
<text class="ax" x="988.1" y="117.85" text-anchor="middle" textLength="14.7" lengthAdjust="spacingAndGlyphs">420</text>
<text class="ax" x="988.1" y="151.75" text-anchor="middle" textLength="14.7" lengthAdjust="spacingAndGlyphs">410</text>
<text class="ax" x="988.1" y="185.65" text-anchor="middle" textLength="14.7" lengthAdjust="spacingAndGlyphs">400</text>
<text class="ax" x="988.1" y="219.55" text-anchor="middle" textLength="14.7" lengthAdjust="spacingAndGlyphs">390</text>
<text class="ax" x="988.1" y="253.45" text-anchor="middle" textLength="14.7" lengthAdjust="spacingAndGlyphs">380</text>
<text class="ax" x="988.1" y="287.35" text-anchor="middle" textLength="14.7" lengthAdjust="spacingAndGlyphs">370</text>
<text class="ax" x="988.1" y="321.25" text-anchor="middle" textLength="14.7" lengthAdjust="spacingAndGlyphs">360</text>
<text class="ax" x="988.1" y="355.15" text-anchor="middle" textLength="14.7" lengthAdjust="spacingAndGlyphs">350</text>
<defs><clipPath id="la"><rect x="974" y="361.9" width="42" height="70"/></clipPath></defs>
<g clip-path="url(#la)">
<text class="ax" x="988.1" y="366.45" text-anchor="middle" textLength="9.8" lengthAdjust="spacingAndGlyphs">50</text>
</g>
<rect x="974.5" y="21.5" width="41" height="24.6" fill="#fff"/>
<rect x="977.3" y="24.5" width="35.7" height="19.4" rx="3" fill="#fff" stroke="#e0e3eb" stroke-width="1"/>
<text class="ax" x="992.4" y="37.7" text-anchor="middle" textLength="15.2" lengthAdjust="spacingAndGlyphs">JPY</text>
<rect x="974.3" y="192.6" width="25.8" height="13.8" rx="1.5" fill="#008000"/>
<text class="lb" x="987.5" y="203" text-anchor="middle" textLength="14.7" lengthAdjust="spacingAndGlyphs">390</text>
<rect x="974.3" y="206.4" width="25.8" height="13.8" rx="1.5" fill="#2962ff"/>
<text class="lb" x="987.5" y="216.8" text-anchor="middle" textLength="14.7" lengthAdjust="spacingAndGlyphs">387</text>
<rect x="974.3" y="220.2" width="25.8" height="13.6" rx="1.5" fill="#0000ff"/>
<text class="lb" x="987.5" y="230.5" text-anchor="middle" textLength="14.7" lengthAdjust="spacingAndGlyphs">385</text>
<rect x="974.3" y="233.8" width="25.8" height="13.3" rx="1.5" fill="#800080"/>
<text class="lb" x="987.5" y="243.95" text-anchor="middle" textLength="14.7" lengthAdjust="spacingAndGlyphs">383</text>
<rect x="974.3" y="284.3" width="25.8" height="13.6" rx="1.5" fill="#4ca050"/>
<text class="lb" x="987.5" y="294.6" text-anchor="middle" textLength="14.7" lengthAdjust="spacingAndGlyphs">367</text>
<rect x="974.3" y="297.9" width="25.8" height="13.5" rx="1.5" fill="#14998a"/>
<text class="lb" x="987.5" y="308.15" text-anchor="middle" textLength="14.7" lengthAdjust="spacingAndGlyphs">360</text>
<rect x="974.3" y="311.4" width="25.8" height="13.8" rx="1.5" fill="#0a7d82"/>
<text class="lb" x="987.5" y="321.8" text-anchor="middle" textLength="14.7" lengthAdjust="spacingAndGlyphs">360</text>
<rect x="974.3" y="326.7" width="25.8" height="13.6" rx="1.5" fill="#ff0000"/>
<text class="lb" x="987.5" y="337" text-anchor="middle" textLength="14.7" lengthAdjust="spacingAndGlyphs">356</text>
<rect x="974.3" y="340.3" width="25.8" height="13.6" rx="1.5" fill="#ff6d00"/>
<text class="lb" x="987.5" y="350.6" text-anchor="middle" textLength="14.7" lengthAdjust="spacingAndGlyphs">355</text>
<defs><clipPath id="vl"><rect x="970" y="350" width="40" height="10.9"/></clipPath></defs>
<g clip-path="url(#vl)">
<rect x="974.3" y="353.9" width="29.3" height="13.6" rx="1.5" fill="#26a69a"/>
<text class="lb" x="989.25" y="364.2" text-anchor="middle" textLength="18.6" lengthAdjust="spacingAndGlyphs">9.2K</text>
</g>
<rect x="974.3" y="385.1" width="16" height="13.3" rx="1.5" fill="#808080"/>
<text class="lb" x="982.6" y="395.25" text-anchor="middle" textLength="4.9" lengthAdjust="spacingAndGlyphs">0</text>
<text class="ax" x="987.4" y="423.25" text-anchor="middle" textLength="15.4" lengthAdjust="spacingAndGlyphs">−50</text>
<rect x="974.3" y="403.4" width="25.8" height="13.6" rx="1.5" fill="#800000"/>
<text class="lb" x="987.5" y="413.7" text-anchor="middle" textLength="14.7" lengthAdjust="spacingAndGlyphs">−32</text>
<text x="21.98" y="441.8" text-anchor="middle" style="font-size:9.7px" textLength="23.2" lengthAdjust="spacingAndGlyphs">12:30</text>
<text class="b" x="139.75" y="441.8" text-anchor="middle" style="font-size:9.7px" textLength="10.4" lengthAdjust="spacingAndGlyphs">14</text>
<text x="244.43" y="441.8" text-anchor="middle" style="font-size:9.7px" textLength="23.2" lengthAdjust="spacingAndGlyphs">10:00</text>
<text x="322.94" y="441.8" text-anchor="middle" style="font-size:9.7px" textLength="23.2" lengthAdjust="spacingAndGlyphs">10:30</text>
<text x="401.45" y="441.8" text-anchor="middle" style="font-size:9.7px" textLength="23.2" lengthAdjust="spacingAndGlyphs">11:00</text>
<text x="466.88" y="441.8" text-anchor="middle" style="font-size:9.7px" textLength="23.2" lengthAdjust="spacingAndGlyphs">12:30</text>
<text x="545.38" y="441.8" text-anchor="middle" style="font-size:9.7px" textLength="23.2" lengthAdjust="spacingAndGlyphs">13:00</text>
<text x="623.89" y="441.8" text-anchor="middle" style="font-size:9.7px" textLength="23.2" lengthAdjust="spacingAndGlyphs">13:30</text>
<text x="702.4" y="441.8" text-anchor="middle" style="font-size:9.7px" textLength="23.2" lengthAdjust="spacingAndGlyphs">14:00</text>
<text x="780.92" y="441.8" text-anchor="middle" style="font-size:9.7px" textLength="23.2" lengthAdjust="spacingAndGlyphs">14:30</text>
<text class="b" x="872.51" y="441.8" text-anchor="middle" style="font-size:9.7px" textLength="10.4" lengthAdjust="spacingAndGlyphs">15</text>
<text x="951.02" y="441.8" text-anchor="middle" style="font-size:9.7px" textLength="23.2" lengthAdjust="spacingAndGlyphs">09:30</text>
<text x="8.6" y="15.87" style="font-size:10.2px;fill:#131722;stroke:#131722;stroke-width:0.18px" textLength="33" lengthAdjust="spacingAndGlyphs">t6a2ka6</text>
<text x="44.7" y="15.87" style="font-size:10.2px;fill:#131722;stroke:#131722;stroke-width:0.18px" textLength="9.4" lengthAdjust="spacingAndGlyphs">が</text>
<text x="58" y="15.87" style="font-size:10.2px;fill:#131722;stroke:#131722;stroke-width:0.18px" textLength="71.4" lengthAdjust="spacingAndGlyphs">TradingView.com</text>
<text x="133.3" y="15.87" style="font-size:10.2px;fill:#131722;stroke:#131722;stroke-width:0.18px" textLength="8.7" lengthAdjust="spacingAndGlyphs">で</text>
<text x="145" y="15.87" style="font-size:10.2px;fill:#131722;stroke:#131722;stroke-width:0.18px" textLength="5.2" lengthAdjust="spacingAndGlyphs">9</text>
<text x="150.6" y="15.87" style="font-size:10.2px;fill:#131722;stroke:#131722;stroke-width:0.18px" textLength="7.4" lengthAdjust="spacingAndGlyphs">月</text>
<text x="163.3" y="15.87" style="font-size:10.2px;fill:#131722;stroke:#131722;stroke-width:0.18px" textLength="92.1" lengthAdjust="spacingAndGlyphs">14, 2023 22:28 UTC+9</text>
<text x="259.8" y="15.87" style="font-size:10.2px;fill:#131722;stroke:#131722;stroke-width:0.18px" textLength="27.9" lengthAdjust="spacingAndGlyphs">に公開</text>
<text x="14.9" y="37.3" style="font-size:10px;fill:#131722;stroke:#131722;stroke-width:0.18px" textLength="20.4" lengthAdjust="spacingAndGlyphs">白鳩</text>
<text x="35.8" y="37.3" style="font-size:10px;fill:#131722;stroke:#131722;stroke-width:0.18px" textLength="30.1" lengthAdjust="spacingAndGlyphs">, 5, TSE</text>
<text x="72.9" y="37.3" style="font-size:10px;fill:#131722;stroke:#131722;stroke-width:0.18px" textLength="18.9" lengthAdjust="spacingAndGlyphs">始値</text>
<text x="92.2" y="37.3" style="font-size:10px;fill:#089981;stroke:#089981;stroke-width:0.18px" textLength="14.9" lengthAdjust="spacingAndGlyphs">360</text>
<text x="113.3" y="37.3" style="font-size:10px;fill:#131722;stroke:#131722;stroke-width:0.18px" textLength="18.5" lengthAdjust="spacingAndGlyphs">高値</text>
<text x="132.2" y="37.3" style="font-size:10px;fill:#089981;stroke:#089981;stroke-width:0.18px" textLength="14.9" lengthAdjust="spacingAndGlyphs">360</text>
<text x="153.3" y="37.3" style="font-size:10px;fill:#131722;stroke:#131722;stroke-width:0.18px" textLength="18.8" lengthAdjust="spacingAndGlyphs">安値</text>
<text x="172.4" y="37.3" style="font-size:10px;fill:#089981;stroke:#089981;stroke-width:0.18px" textLength="14.8" lengthAdjust="spacingAndGlyphs">360</text>
<text x="193.5" y="37.3" style="font-size:10px;fill:#131722;stroke:#131722;stroke-width:0.18px" textLength="18.8" lengthAdjust="spacingAndGlyphs">終値</text>
<text x="212.6" y="37.3" style="font-size:10px;fill:#089981;stroke:#089981;stroke-width:0.18px" textLength="14.8" lengthAdjust="spacingAndGlyphs">360</text>
<text x="233.5" y="37.3" style="font-size:10px;fill:#089981;stroke:#089981;stroke-width:0.18px" textLength="48.7" lengthAdjust="spacingAndGlyphs">−5 (−1.37%)</text>
<text x="14.9" y="50.5" style="font-size:10px;fill:#131722;stroke:#131722;stroke-width:0.18px" textLength="28.5" lengthAdjust="spacingAndGlyphs">出来高</text>
<text x="48.9" y="50.5" style="font-size:10px;fill:#26a69a;stroke:#26a69a;stroke-width:0.18px" textLength="19.1" lengthAdjust="spacingAndGlyphs">9.2K</text>
<text x="14.9" y="64.2" style="font-size:10px;fill:#131722;stroke:#131722;stroke-width:0.18px" textLength="43.3" lengthAdjust="spacingAndGlyphs">MA Cross (</text>
<text x="58.8" y="64.2" style="font-size:10px;fill:#131722;stroke:#131722;stroke-width:0.18px" textLength="78.2" lengthAdjust="spacingAndGlyphs">移動平均線の交差</text>
<text x="137.6" y="64.2" style="font-size:10px;fill:#131722;stroke:#131722;stroke-width:0.18px" textLength="32.4" lengthAdjust="spacingAndGlyphs">) (9, 21)</text>
<text x="176.7" y="64.2" style="font-size:10px;fill:#ff7a1a;stroke:#ff7a1a;stroke-width:0.18px" textLength="14.3" lengthAdjust="spacingAndGlyphs">355</text>
<text x="197.2" y="64.2" style="font-size:10px;fill:#50a550;stroke:#50a550;stroke-width:0.18px" textLength="14.6" lengthAdjust="spacingAndGlyphs">367</text>
<g stroke="#2a2e39" stroke-width="0.9" fill="none"><circle cx="222.1" cy="60.4" r="3.1"/><path d="M219.9,62.6L224.3,58.2"/></g>
<text x="14.9" y="77.7" style="font-size:10px;fill:#131722;stroke:#131722;stroke-width:0.18px" textLength="112.6" lengthAdjust="spacingAndGlyphs">Ichimoku2c (9, 26, 52, 26)</text>
<text x="133.3" y="77.7" style="font-size:10px;fill:#ff3c3c;stroke:#ff3c3c;stroke-width:0.18px" textLength="14.7" lengthAdjust="spacingAndGlyphs">356</text>
<text x="154.4" y="77.7" style="font-size:10px;fill:#4646ff;stroke:#4646ff;stroke-width:0.18px" textLength="14.6" lengthAdjust="spacingAndGlyphs">385</text>
<text x="175.2" y="77.7" style="font-size:10px;fill:#2a9196;stroke:#2a9196;stroke-width:0.18px" textLength="14.7" lengthAdjust="spacingAndGlyphs">360</text>
<text x="196.3" y="77.7" style="font-size:10px;fill:#9d37a0;stroke:#9d37a0;stroke-width:0.18px" textLength="14.7" lengthAdjust="spacingAndGlyphs">383</text>
<text x="217.4" y="77.7" style="font-size:10px;fill:#289128;stroke:#289128;stroke-width:0.18px" textLength="14.6" lengthAdjust="spacingAndGlyphs">390</text>
<text x="14.6" y="377.2" style="font-size:10px;fill:#131722;stroke:#131722;stroke-width:0.18px" textLength="119" lengthAdjust="spacingAndGlyphs">SQZMOM_LB (20, 2, 20, 1.5)</text>
<text x="140.8" y="377.2" style="font-size:10px;fill:#a52a2a;stroke:#a52a2a;stroke-width:0.18px" textLength="13.9" lengthAdjust="spacingAndGlyphs">−32</text>
<text x="161" y="377.2" style="font-size:10px;fill:#808080;stroke:#808080;stroke-width:0.18px" textLength="4.6" lengthAdjust="spacingAndGlyphs">0</text>
<text x="378" y="102.97" style="font-size:10.2px;fill:#2962ff;stroke:#2962ff;stroke-width:0.18px" textLength="10.7" lengthAdjust="spacingAndGlyphs">12</text>
<text x="389.5" y="103.26" style="font-size:11px;fill:#2962ff;stroke:#2962ff;stroke-width:0.18px" textLength="10.4" lengthAdjust="spacingAndGlyphs">時</text>
<text x="400.5" y="102.97" style="font-size:10.2px;fill:#2962ff;stroke:#2962ff;stroke-width:0.18px" textLength="10.7" lengthAdjust="spacingAndGlyphs">52</text>
<text x="412" y="103.26" style="font-size:11px;fill:#2962ff;stroke:#2962ff;stroke-width:0.18px" textLength="21.8" lengthAdjust="spacingAndGlyphs">分に</text>
<text x="434.4" y="102.97" style="font-size:10.2px;fill:#2962ff;stroke:#2962ff;stroke-width:0.18px" textLength="16.25" lengthAdjust="spacingAndGlyphs">420</text>
<text x="451.45" y="103.26" style="font-size:11px;fill:#2962ff;stroke:#2962ff;stroke-width:0.18px" textLength="44.6" lengthAdjust="spacingAndGlyphs">円で売却</text>
<text x="351.3" y="127.27" style="font-size:10.2px;fill:#2962ff;stroke:#2962ff;stroke-width:0.18px" textLength="10.7" lengthAdjust="spacingAndGlyphs">12</text>
<text x="362.8" y="127.56" style="font-size:11px;fill:#2962ff;stroke:#2962ff;stroke-width:0.18px" textLength="10.4" lengthAdjust="spacingAndGlyphs">時</text>
<text x="373.8" y="127.27" style="font-size:10.2px;fill:#2962ff;stroke:#2962ff;stroke-width:0.18px" textLength="10.7" lengthAdjust="spacingAndGlyphs">51</text>
<text x="385.3" y="127.56" style="font-size:11px;fill:#2962ff;stroke:#2962ff;stroke-width:0.18px" textLength="21.8" lengthAdjust="spacingAndGlyphs">分に</text>
<text x="407.7" y="127.27" style="font-size:10.2px;fill:#2962ff;stroke:#2962ff;stroke-width:0.18px" textLength="16.25" lengthAdjust="spacingAndGlyphs">418</text>
<text x="424.75" y="127.56" style="font-size:11px;fill:#2962ff;stroke:#2962ff;stroke-width:0.18px" textLength="44.6" lengthAdjust="spacingAndGlyphs">円で購入</text>
<g transform="translate(8.05,458.3) scale(0.432)" fill="#131722"><path d="M14 22H7V11H0V4h14v18zM28 22h-8l7.5-18h8L28 22z"/><circle cx="20" cy="8" r="4"/></g>
<text x="26.5" y="467.74" style="font-size:10.4px;fill:#131722;stroke:#131722;stroke-width:0.18px" textLength="55.9" lengthAdjust="spacingAndGlyphs">TradingView</text>
</svg></body></html>
